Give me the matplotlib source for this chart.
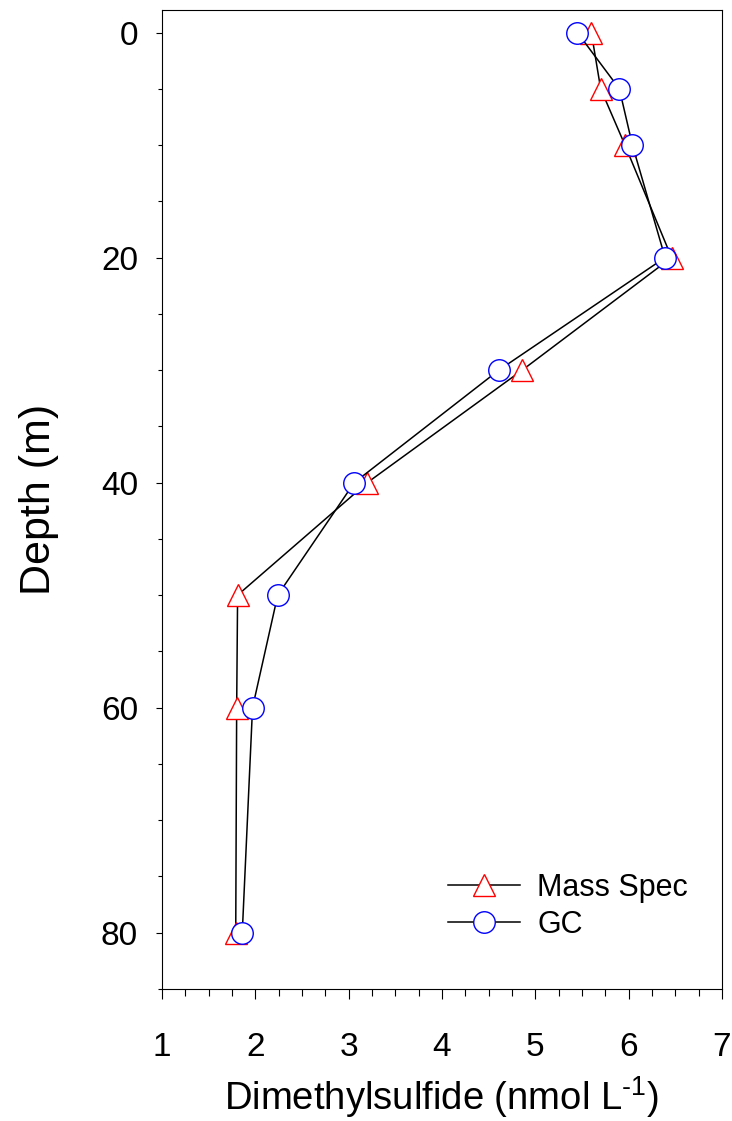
import matplotlib
matplotlib.use("Agg")
import matplotlib.pyplot as plt
from matplotlib.ticker import MultipleLocator

plt.rcParams['font.family'] = ['Liberation Sans', 'DejaVu Sans']
plt.rcParams['mathtext.fontset'] = 'custom'
plt.rcParams['mathtext.rm'] = 'Liberation Sans'
plt.rcParams['mathtext.it'] = 'Liberation Sans'
plt.rcParams['mathtext.default'] = 'regular'

depth = [0, 5, 10, 20, 30, 40, 50, 60, 80]
mass_spec = [5.60, 5.70, 5.96, 6.46, 4.86, 3.20, 1.81, 1.80, 1.79]
gc = [5.45, 5.90, 6.04, 6.39, 4.61, 3.06, 2.24, 1.97, 1.86]

fig = plt.figure(figsize=(7.32, 11.21), dpi=100)
ax = fig.add_axes([162/732, 1 - 989/1121, 560/732, 979/1121])

ax.plot(mass_spec, depth, color='black', lw=1.1, marker='^', ms=16,
        mfc='white', mec='red', mew=1.0, label='Mass Spec', zorder=3)
ax.plot(gc, depth, color='black', lw=1.1, marker='o', ms=15.5,
        mfc='white', mec='blue', mew=1.0, label='GC', zorder=4)

ax.set_xlim(1, 7)
ax.set_ylim(85, -2)
ax.xaxis.set_major_locator(MultipleLocator(1))
ax.xaxis.set_minor_locator(MultipleLocator(0.25))
ax.yaxis.set_major_locator(MultipleLocator(20))
ax.yaxis.set_minor_locator(MultipleLocator(5))
ax.tick_params(which='both', direction='out', width=0.8, labelsize=24)
ax.tick_params(axis='x', which='major', length=7.2, pad=24)
ax.tick_params(axis='x', which='minor', length=5)
ax.tick_params(axis='y', which='major', length=4.3, pad=13)
ax.tick_params(axis='y', which='minor', length=3)
ax.tick_params(axis='x', top=False)
ax.tick_params(axis='y', right=False)
for s in ax.spines.values():
    s.set_linewidth(0.8)

ax.set_xlabel('Dimethylsulfide (nmol L$^{\\text{-}1}$)', fontsize=27.5, labelpad=8)
ax.set_ylabel('Depth (m)', fontsize=31, labelpad=30)

fig.legend(loc='upper left', bbox_to_anchor=(448/732, 1 - 873/1121),
           bbox_transform=fig.transFigure, frameon=False, borderpad=0,
           borderaxespad=0, fontsize=22, handlelength=2.36,
           labelspacing=0.23, handletextpad=0.56)

fig.savefig('out.png', dpi=100)
